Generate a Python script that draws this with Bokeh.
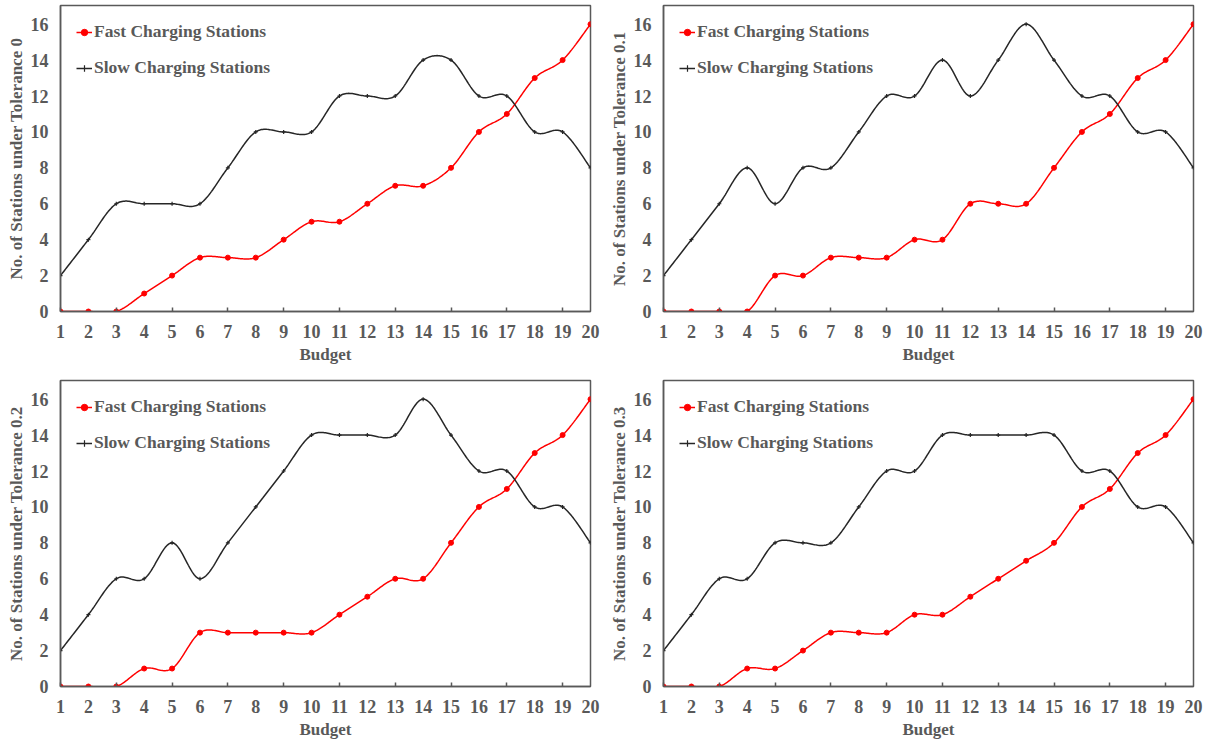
import numpy as np
from bokeh.plotting import figure
from bokeh.layouts import column, row
from bokeh.models import FixedTicker, Range1d, Legend, LegendItem
from bokeh.embed import file_html
from bokeh.resources import INLINE

budget = list(range(1, 21))
tolerances = ["0", "0.1", "0.2", "0.3"]

fast_t0 = [0, 0, 0, 1, 2, 3, 3, 3, 4, 5, 5, 6, 7, 7, 8, 10, 11, 13, 14, 16]
slow_t0 = [2, 4, 6, 6, 6, 6, 8, 10, 10, 10, 12, 12, 12, 14, 14, 12, 12, 10, 10, 8]

fast_t1 = [0, 0, 0, 0, 2, 2, 3, 3, 3, 4, 4, 6, 6, 6, 8, 10, 11, 13, 14, 16]
slow_t1 = [2, 4, 6, 8, 6, 8, 8, 10, 12, 12, 14, 12, 14, 16, 14, 12, 12, 10, 10, 8]

fast_t2 = [0, 0, 0, 1, 1, 3, 3, 3, 3, 3, 4, 5, 6, 6, 8, 10, 11, 13, 14, 16]
slow_t2 = [2, 4, 6, 6, 8, 6, 8, 10, 12, 14, 14, 14, 14, 16, 14, 12, 12, 10, 10, 8]

fast_t3 = [0, 0, 0, 1, 1, 2, 3, 3, 3, 4, 4, 5, 6, 7, 8, 10, 11, 13, 14, 16]
slow_t3 = [2, 4, 6, 6, 8, 8, 8, 10, 12, 12, 14, 14, 14, 14, 14, 12, 12, 10, 10, 8]

fast_all = [fast_t0, fast_t1, fast_t2, fast_t3]
slow_all = [slow_t0, slow_t1, slow_t2, slow_t3]

x_ticks = list(range(1, 21))
y_ticks = [0, 2, 4, 6, 8, 10, 12, 14, 16]

TXT = "#595959"
FONT = "Liberation Serif"


def smooth(xs, ys, n=24):
    # Bezier smoothing of the drawn line between the data points (rendering only)
    xs = np.asarray(xs, float)
    ys = np.asarray(ys, float)
    px = np.concatenate([[xs[0]], xs, [xs[-1]]])
    py = np.concatenate([[ys[0]], ys, [ys[-1]]])
    outx, outy = [], []
    t = np.linspace(0, 1, n, endpoint=False)
    for i in range(1, len(px) - 2):
        p0x, p1x, p2x, p3x = px[i - 1], px[i], px[i + 1], px[i + 2]
        p0y, p1y, p2y, p3y = py[i - 1], py[i], py[i + 1], py[i + 2]
        c1x = p1x + (p2x - p0x) / 6
        c1y = p1y + (p2y - p0y) / 6
        c2x = p2x - (p3x - p1x) / 6
        c2y = p2y - (p3y - p1y) / 6
        b0 = (1 - t) ** 3
        b1 = 3 * (1 - t) ** 2 * t
        b2 = 3 * (1 - t) * t ** 2
        b3 = t ** 3
        outx.extend(b0 * p1x + b1 * c1x + b2 * c2x + b3 * p2x)
        outy.extend(b0 * p1y + b1 * c1y + b2 * c2y + b3 * p2y)
    outx.append(xs[-1])
    outy.append(ys[-1])
    return outx, outy


def make_panel(idx, left, right, top, bottom):
    p = figure(frame_width=530, frame_height=306, output_backend="svg",
               toolbar_location=None,
               x_range=Range1d(1, 20), y_range=Range1d(0, 17.04),
               min_border_left=left, min_border_right=right,
               min_border_top=top, min_border_bottom=bottom)
    p.grid.visible = False
    p.outline_line_color = TXT
    p.outline_line_width = 1.5
    p.background_fill_color = "white"
    p.border_fill_color = "white"

    xt = FixedTicker(ticks=x_ticks, minor_ticks=[v for v in x_ticks if v % 2 == 1])
    p.xaxis.ticker = xt
    p.yaxis.ticker = FixedTicker(ticks=y_ticks, minor_ticks=[])
    for ax in (p.xaxis, p.yaxis):
        ax.axis_line_color = TXT
        ax.axis_line_width = 1.5
        ax.major_tick_in = 0
        ax.major_tick_out = 0
        ax.minor_tick_out = 0
        ax.major_label_text_font = FONT
        ax.major_label_text_font_style = "bold"
        ax.major_label_text_font_size = "18px"
        ax.major_label_text_color = TXT
        ax.axis_label_text_font = FONT
        ax.axis_label_text_font_style = "bold"
        ax.axis_label_text_font_size = "17px"
        ax.axis_label_text_color = TXT
    p.xaxis.minor_tick_in = 4
    p.xaxis.minor_tick_line_color = TXT
    p.xaxis.minor_tick_line_width = 1.5
    p.yaxis.minor_tick_in = 0
    p.xaxis.major_label_standoff = 13
    p.xaxis.axis_label_standoff = 4
    p.yaxis.major_label_standoff = 12
    p.yaxis.axis_label_standoff = 2
    p.xaxis.axis_label = "Budget"
    p.yaxis.axis_label = "No. of Stations under Tolerance " + tolerances[idx]

    fx, fy = smooth(budget, fast_all[idx])
    sx, sy = smooth(budget, slow_all[idx])
    fl = p.line(fx, fy, line_color="#FF0000", line_width=1.5)
    fm = p.scatter(budget, fast_all[idx], marker="circle", size=5,
                   fill_color="#FF0000", line_color="#FF0000")
    sl = p.line(sx, sy, line_color="#262626", line_width=1.5)
    sm = p.scatter(budget, slow_all[idx], marker="cross", size=4,
                   line_color="#262626", line_width=1.2)

    legend = Legend(items=[
        LegendItem(label="Fast Charging Stations", renderers=[fl, fm]),
        LegendItem(label="Slow Charging Stations", renderers=[sl, sm]),
    ], location="top_left")
    legend.background_fill_alpha = 0
    legend.border_line_alpha = 0
    legend.label_text_font = FONT
    legend.label_text_font_style = "bold"
    legend.label_text_font_size = "17.5px"
    legend.label_text_color = TXT
    legend.glyph_width = 16
    legend.glyph_height = 20
    legend.label_height = 20
    legend.label_standoff = 2
    legend.spacing = 15
    legend.margin = 12
    legend.padding = 4
    p.add_layout(legend, "center")
    return p


p0 = make_panel(0, 60, 15, 5, 60)
p1 = make_panel(1, 58, 17, 5, 60)
p2 = make_panel(2, 60, 15, 9, 56)
p3 = make_panel(3, 58, 17, 9, 56)

layout = column(row(p0, p1), row(p2, p3))

with open("out.html", "w") as f:
    f.write(file_html(layout, INLINE))
